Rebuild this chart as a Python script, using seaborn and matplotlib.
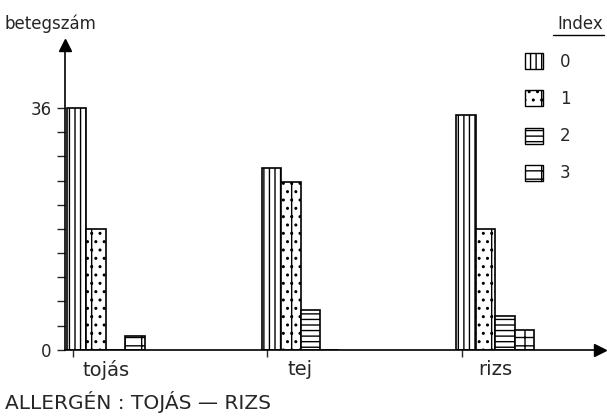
import pandas as pd
import seaborn as sns
import matplotlib.pyplot as plt
from matplotlib.patches import Patch
from matplotlib.lines import Line2D

allergens = ['tojás', 'tej', 'rizs']
index_levels = ['0', '1', '2', '3']
index0 = [36, 27, 35]
index1 = [18, 25, 18]
index2 = [0, 6, 5]
index3 = [2, 0, 3]
hatches = ['|||', '|..', '---', '-+']

rows = []
for lvl, vals in zip(index_levels, [index0, index1, index2, index3]):
    for a, v in zip(allergens, vals):
        rows.append({'allergen': a, 'Index': lvl, 'betegszam': v})
df = pd.DataFrame(rows)

sns.set_style('white')
plt.rcParams['font.family'] = ['DejaVu Sans']
plt.rcParams['hatch.linewidth'] = 1.0

fig = plt.figure(figsize=(6.07, 4.19), dpi=100)
ax = fig.add_axes([0.107, 0.165, 0.882, 0.728])

sns.barplot(data=df, x='allergen', y='betegszam', hue='Index',
            palette=['white'] * 4, edgecolor='black', linewidth=1.2,
            width=0.4, legend=False, ax=ax)
for cont, h in zip(ax.containers, hatches):
    for bar in cont:
        bar.set_hatch(h)

ax.set_xlim(-0.21, 2.54)
ax.set_ylim(0, 45.4)
sns.despine(ax=ax)
for s in ['left', 'bottom']:
    ax.spines[s].set_linewidth(1.2)
    ax.spines[s].set_color('black')

ax.set_yticks([0, 36])
ax.set_yticklabels(['0', '36'], fontsize=12)
ax.set_yticks([3.6 * i for i in range(1, 10)], minor=True)
ax.tick_params(axis='y', which='both', direction='out', length=6, width=1, left=True)
ax.set_xticks([0, 1, 2])
ax.set_xticklabels(allergens, fontsize=14)
ax.tick_params(axis='x', which='major', length=0, pad=7)
ax.set_xticks([-0.17, 0.83, 1.83], minor=True)
ax.tick_params(axis='x', which='minor', direction='out', length=5, width=1, bottom=True)
ax.set_xlabel('')
ax.set_ylabel('')

# arrow heads
ax.plot(1, 0, '>k', markersize=9, transform=ax.transAxes, clip_on=False)
ax.plot(0, 1, '^k', markersize=9, transform=ax.transAxes, clip_on=False)

fig.text(5 / 607, 1 - 24 / 419, 'betegszám', fontsize=12, va='center')
fig.text(5 / 607, 1 - 402 / 419, 'ALLERGÉN : TOJÁS — RIZS', fontsize=14.5, va='center')

handles = [Patch(facecolor='white', edgecolor='black', hatch=h) for h in hatches]
leg = fig.legend(handles, index_levels, loc='upper left',
                 bbox_to_anchor=(510 / 607, 1 - 38 / 419), frameon=False,
                 fontsize=12, handlelength=1.1, handleheight=1.1,
                 labelspacing=1.15, handletextpad=1.0)
fig.text(603 / 607, 1 - 24 / 419, 'Index', fontsize=12, ha='right', va='center')
fig.add_artist(Line2D([553 / 607, 604 / 607], [1 - 35 / 419, 1 - 35 / 419],
                      color='black', linewidth=1, transform=fig.transFigure))

plt.savefig('out.png', dpi=100)
plt.close('all')
